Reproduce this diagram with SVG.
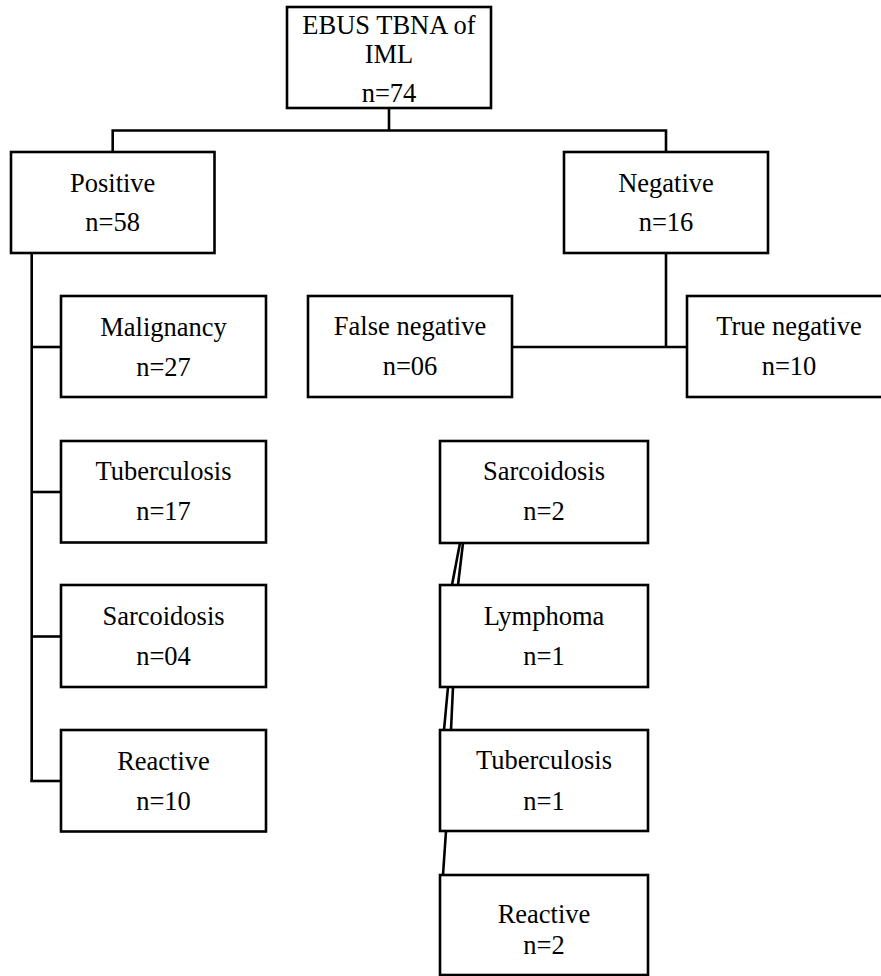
<svg xmlns="http://www.w3.org/2000/svg" width="881" height="976" viewBox="0 0 881 976">
<style>
.box{fill:#fff;stroke:#000;stroke-width:2.6}
.ln{fill:none;stroke:#000;stroke-width:2.6}
text{font-family:"Liberation Serif","Times New Roman",serif;font-size:26.5px;fill:#000;text-anchor:middle}
</style>
<rect width="881" height="976" fill="#fff"/>
<g id="connectors">
<polyline class="ln" points="389,108 389,130.5"/>
<polyline class="ln" points="112.7,152 112.7,130.5 666,130.5 666,152"/>
<polyline class="ln" points="31.7,253 31.7,781.5"/>
<line class="ln" x1="31.7" y1="347" x2="61" y2="347"/>
<line class="ln" x1="31.7" y1="492" x2="61" y2="492"/>
<line class="ln" x1="31.7" y1="636.5" x2="61" y2="636.5"/>
<line class="ln" x1="30.4" y1="781" x2="61" y2="781"/>
<line class="ln" x1="666" y1="253" x2="666" y2="347"/>
<line class="ln" x1="512" y1="347" x2="687" y2="347"/>
<line class="ln" x1="460" y1="543" x2="452" y2="585"/>
<line class="ln" x1="463" y1="543" x2="458" y2="585"/>
<line class="ln" x1="448" y1="687" x2="444" y2="730"/>
<line class="ln" x1="453" y1="687" x2="451" y2="730"/>
<line class="ln" x1="446" y1="831" x2="443" y2="875"/>
</g>
<g id="root"><rect class="box" x="287" y="7" width="204" height="101"/><text x="389" y="33.5">EBUS TBNA of</text><text x="389" y="62.5">IML</text><text x="389" y="101.5">n=74</text></g>
<g id="positive"><rect class="box" x="11" y="152" width="203.5" height="101"/><text x="112.7" y="192">Positive</text><text x="112.7" y="231">n=58</text></g>
<g id="negative"><rect class="box" x="564" y="152" width="204" height="101"/><text x="666" y="192">Negative</text><text x="666" y="231">n=16</text></g>
<g id="malignancy"><rect class="box" x="61" y="296" width="205" height="101"/><text x="163.5" y="336">Malignancy</text><text x="163.5" y="376">n=27</text></g>
<g id="tuberculosis-pos"><rect class="box" x="61" y="441" width="205" height="101.5"/><text x="163.5" y="480">Tuberculosis</text><text x="163.5" y="520">n=17</text></g>
<g id="sarcoidosis-pos"><rect class="box" x="61" y="585" width="205" height="102"/><text x="163.5" y="625">Sarcoidosis</text><text x="163.5" y="665">n=04</text></g>
<g id="reactive-pos"><rect class="box" x="61" y="730" width="205" height="101.5"/><text x="163.5" y="770">Reactive</text><text x="163.5" y="810">n=10</text></g>
<g id="false-negative"><rect class="box" x="308" y="296" width="204" height="101"/><text x="410" y="335">False negative</text><text x="410" y="375">n=06</text></g>
<g id="true-negative"><rect class="box" x="687" y="296" width="204" height="101"/><text x="789" y="335">True negative</text><text x="789" y="375">n=10</text></g>
<g id="sarcoidosis-neg"><rect class="box" x="440" y="441" width="208" height="102"/><text x="544" y="480">Sarcoidosis</text><text x="544" y="520">n=2</text></g>
<g id="lymphoma"><rect class="box" x="440" y="585" width="208" height="102"/><text x="544" y="625">Lymphoma</text><text x="544" y="665">n=1</text></g>
<g id="tuberculosis-neg"><rect class="box" x="440" y="730" width="208" height="101"/><text x="544" y="768.5">Tuberculosis</text><text x="544" y="810">n=1</text></g>
<g id="reactive-neg"><rect class="box" x="440" y="875" width="208" height="100"/><text x="544" y="922.5">Reactive</text><text x="544" y="954">n=2</text></g>
</svg>
